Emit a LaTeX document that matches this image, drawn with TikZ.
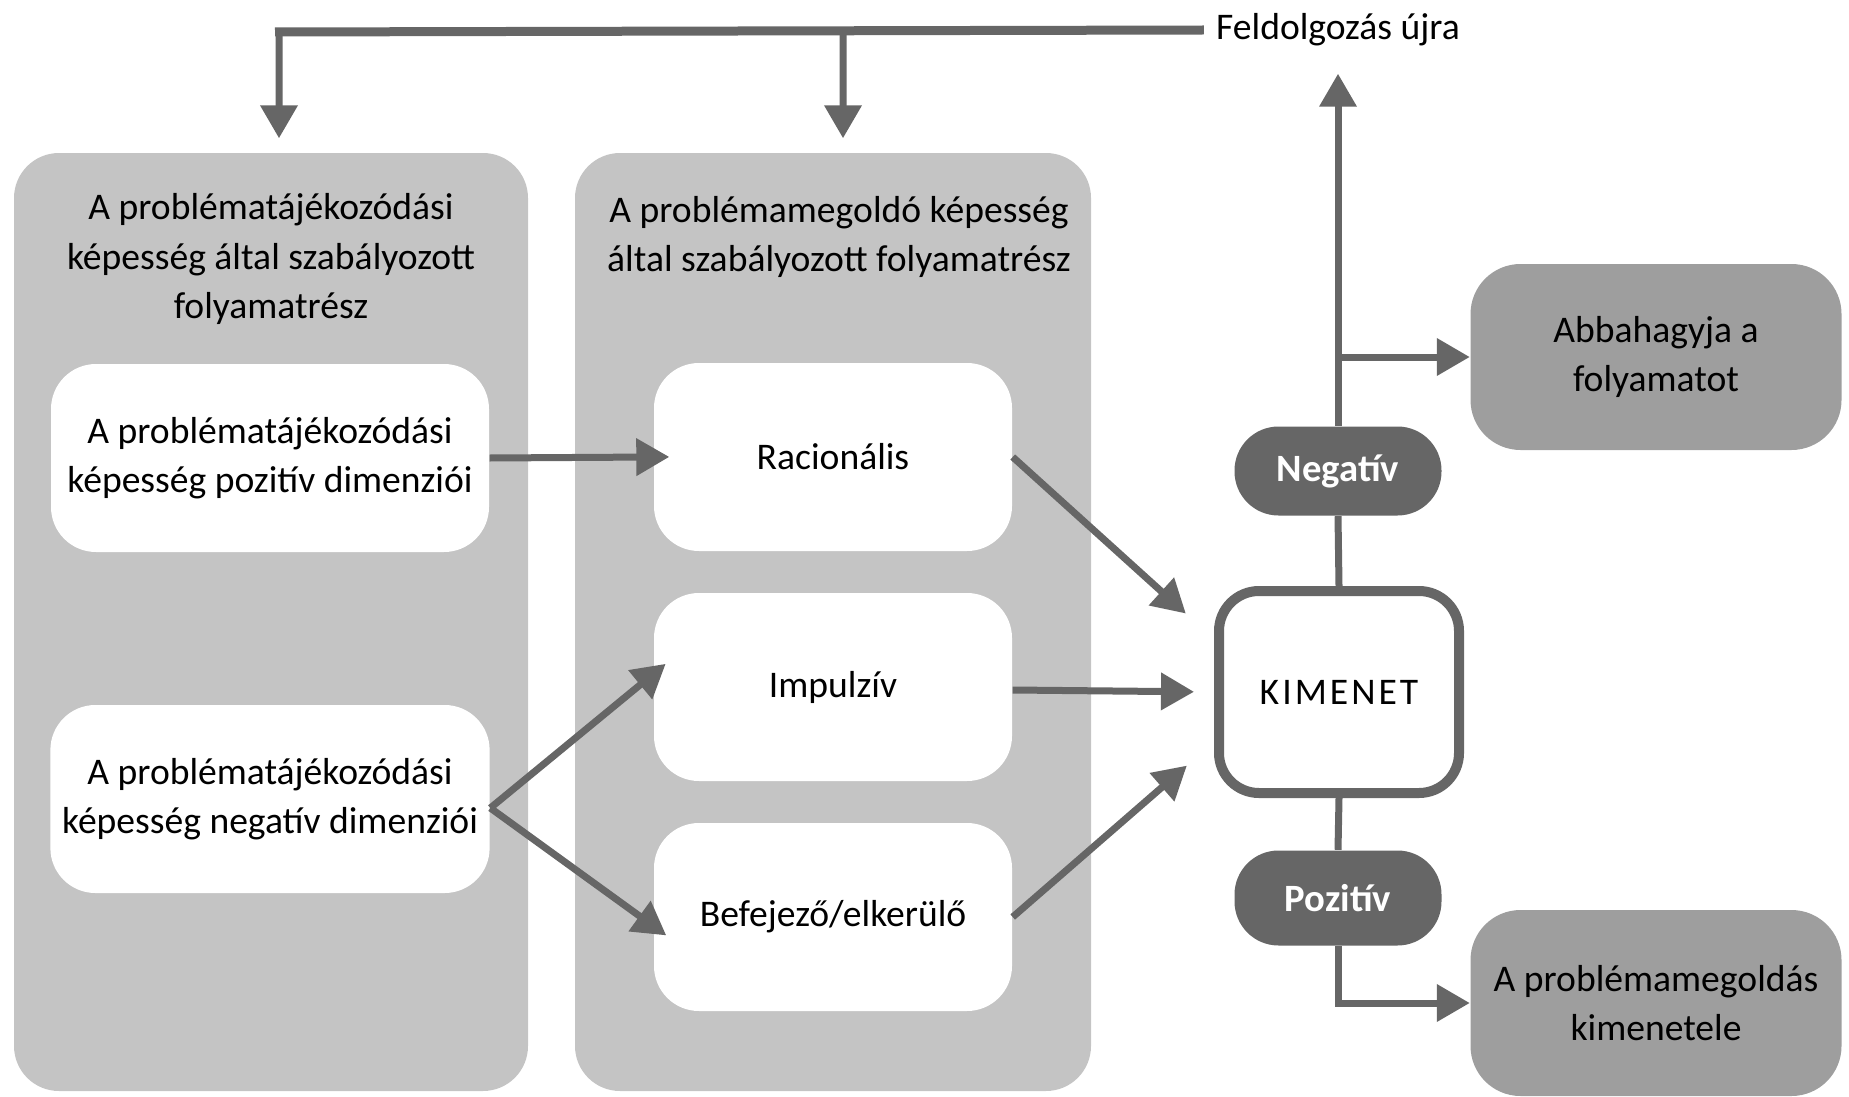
\documentclass[tikz,border=0pt]{standalone}
\usepackage{fontspec}
\setmainfont{Carlito}
\usetikzlibrary{arrows.meta, positioning, fit}
\definecolor{panelgray}{HTML}{C4C4C4}
\definecolor{linegray}{HTML}{666666}
\definecolor{outgray}{HTML}{9E9E9E}
\tikzset{
  txt/.style={font=\fontsize{10.7}{14}\selectfont},
  panel/.style={fill=panelgray, rounded corners=4.5mm, minimum width=51.4mm, minimum height=93.8mm},
  title/.style={txt, align=center},
  wbox/.style={txt, fill=white, rounded corners=4.5mm, align=center, minimum width=#1, minimum height=18.8mm},
  obox/.style={txt, fill=outgray, rounded corners=5mm, align=center, minimum width=37.1mm, minimum height=18.6mm},
  oval/.style={fill=linegray, rounded corners=4.4mm, minimum width=20.7mm, minimum height=8.9mm, text=white, font=\fontsize{11}{14}\selectfont\bfseries},
  conn/.style={draw=linegray, line width=0.7mm},
  arr/.style={conn, -{Triangle[length=3.3mm,width=3.6mm]}},
}
\begin{document}
\begin{tikzpicture}[x=0.1mm, y=-0.1mm]
\useasboundingbox (0,0) rectangle (1849,1096);

% the two panels
\node[panel] at (271,622) (panelL) {};
\node[panel, minimum width=51.6mm] at (833,622) (panelM) {};
\node[title] at (271,259) (titleL) {A problématájékozódási\\képesség által szabályozott\\folyamatrész};
\node[title] at (839,237) (titleM) {A problémamegoldó képesség\\által szabályozott folyamatrész};

\node[wbox=43.8mm] at (270,458) (pos) {A problématájékozódási\\képesség pozitív dimenziói};
\node[wbox=43.8mm] at (270,799) (neg) {A problématájékozódási\\képesség negatív dimenziói};
\node[wbox=35.8mm] at (833,457) (rac) {Racionális};
\node[wbox=35.8mm] at (833,687) (imp) {Impulzív};
\node[wbox=35.8mm] at (833,917) (bef) {Befejező/elkerülő};

% output side
\node[draw=linegray, line width=1mm, fill=white, rounded corners=4mm, minimum width=24mm, minimum height=20.2mm,
  font=\fontsize{10.7}{14}\selectfont\addfontfeature{LetterSpace=8}] at (1339,692) (kim) {KIMENET};
\node[oval] at (1338,471) (negov) {Negatív};
\node[oval, minimum height=9.5mm] at (1338,898) (pozov) {Pozitív};
\node[obox] at (1656,357) (abb) {Abbahagyja a\\folyamatot};
\node[obox] at (1656,1003) (kim2) {A problémamegoldás\\kimenetele};
\node[txt] at (1338,30) (feld) {Feldolgozás újra};

% connectors
\draw[conn, line width=0.9mm] (feld.west) -- (275,32);
\draw[arr] (279,32) -- ([xshift=0.8mm,yshift=1.4mm]panelL.north);
\draw[arr] (843,32) -- ([xshift=1mm,yshift=1.4mm]panelM.north);
\draw[arr, shorten >=-1.6mm] (pos.east) -- (rac.west);
\draw[arr, shorten >=-1.6mm] ([yshift=-0.9mm]neg.east) -- ([yshift=1.3mm]imp.west);
\draw[arr, shorten >=-1.6mm] ([yshift=-0.9mm]neg.east) -- ([yshift=-0.9mm]bef.west);
\draw[arr, shorten >=3.8mm] (rac.east) -- ([yshift=5.3mm]kim.west);
\draw[arr, shorten >=2mm] ([yshift=-0.3mm]imp.east) -- (kim.west);
\draw[arr, shorten >=3.6mm] (bef.east) -- ([yshift=-5mm]kim.west);
\draw[conn] (kim.north) -- (negov.south);
\draw[arr, shorten >=1.5mm] (negov.north) -- (feld.south);
\draw[arr] (negov.north |- abb.west) -- (abb.west);
\draw[conn] (kim.south) -- (pozov.north);
\draw[arr] (pozov.south) |- (kim2.west);
\end{tikzpicture}
\end{document}
